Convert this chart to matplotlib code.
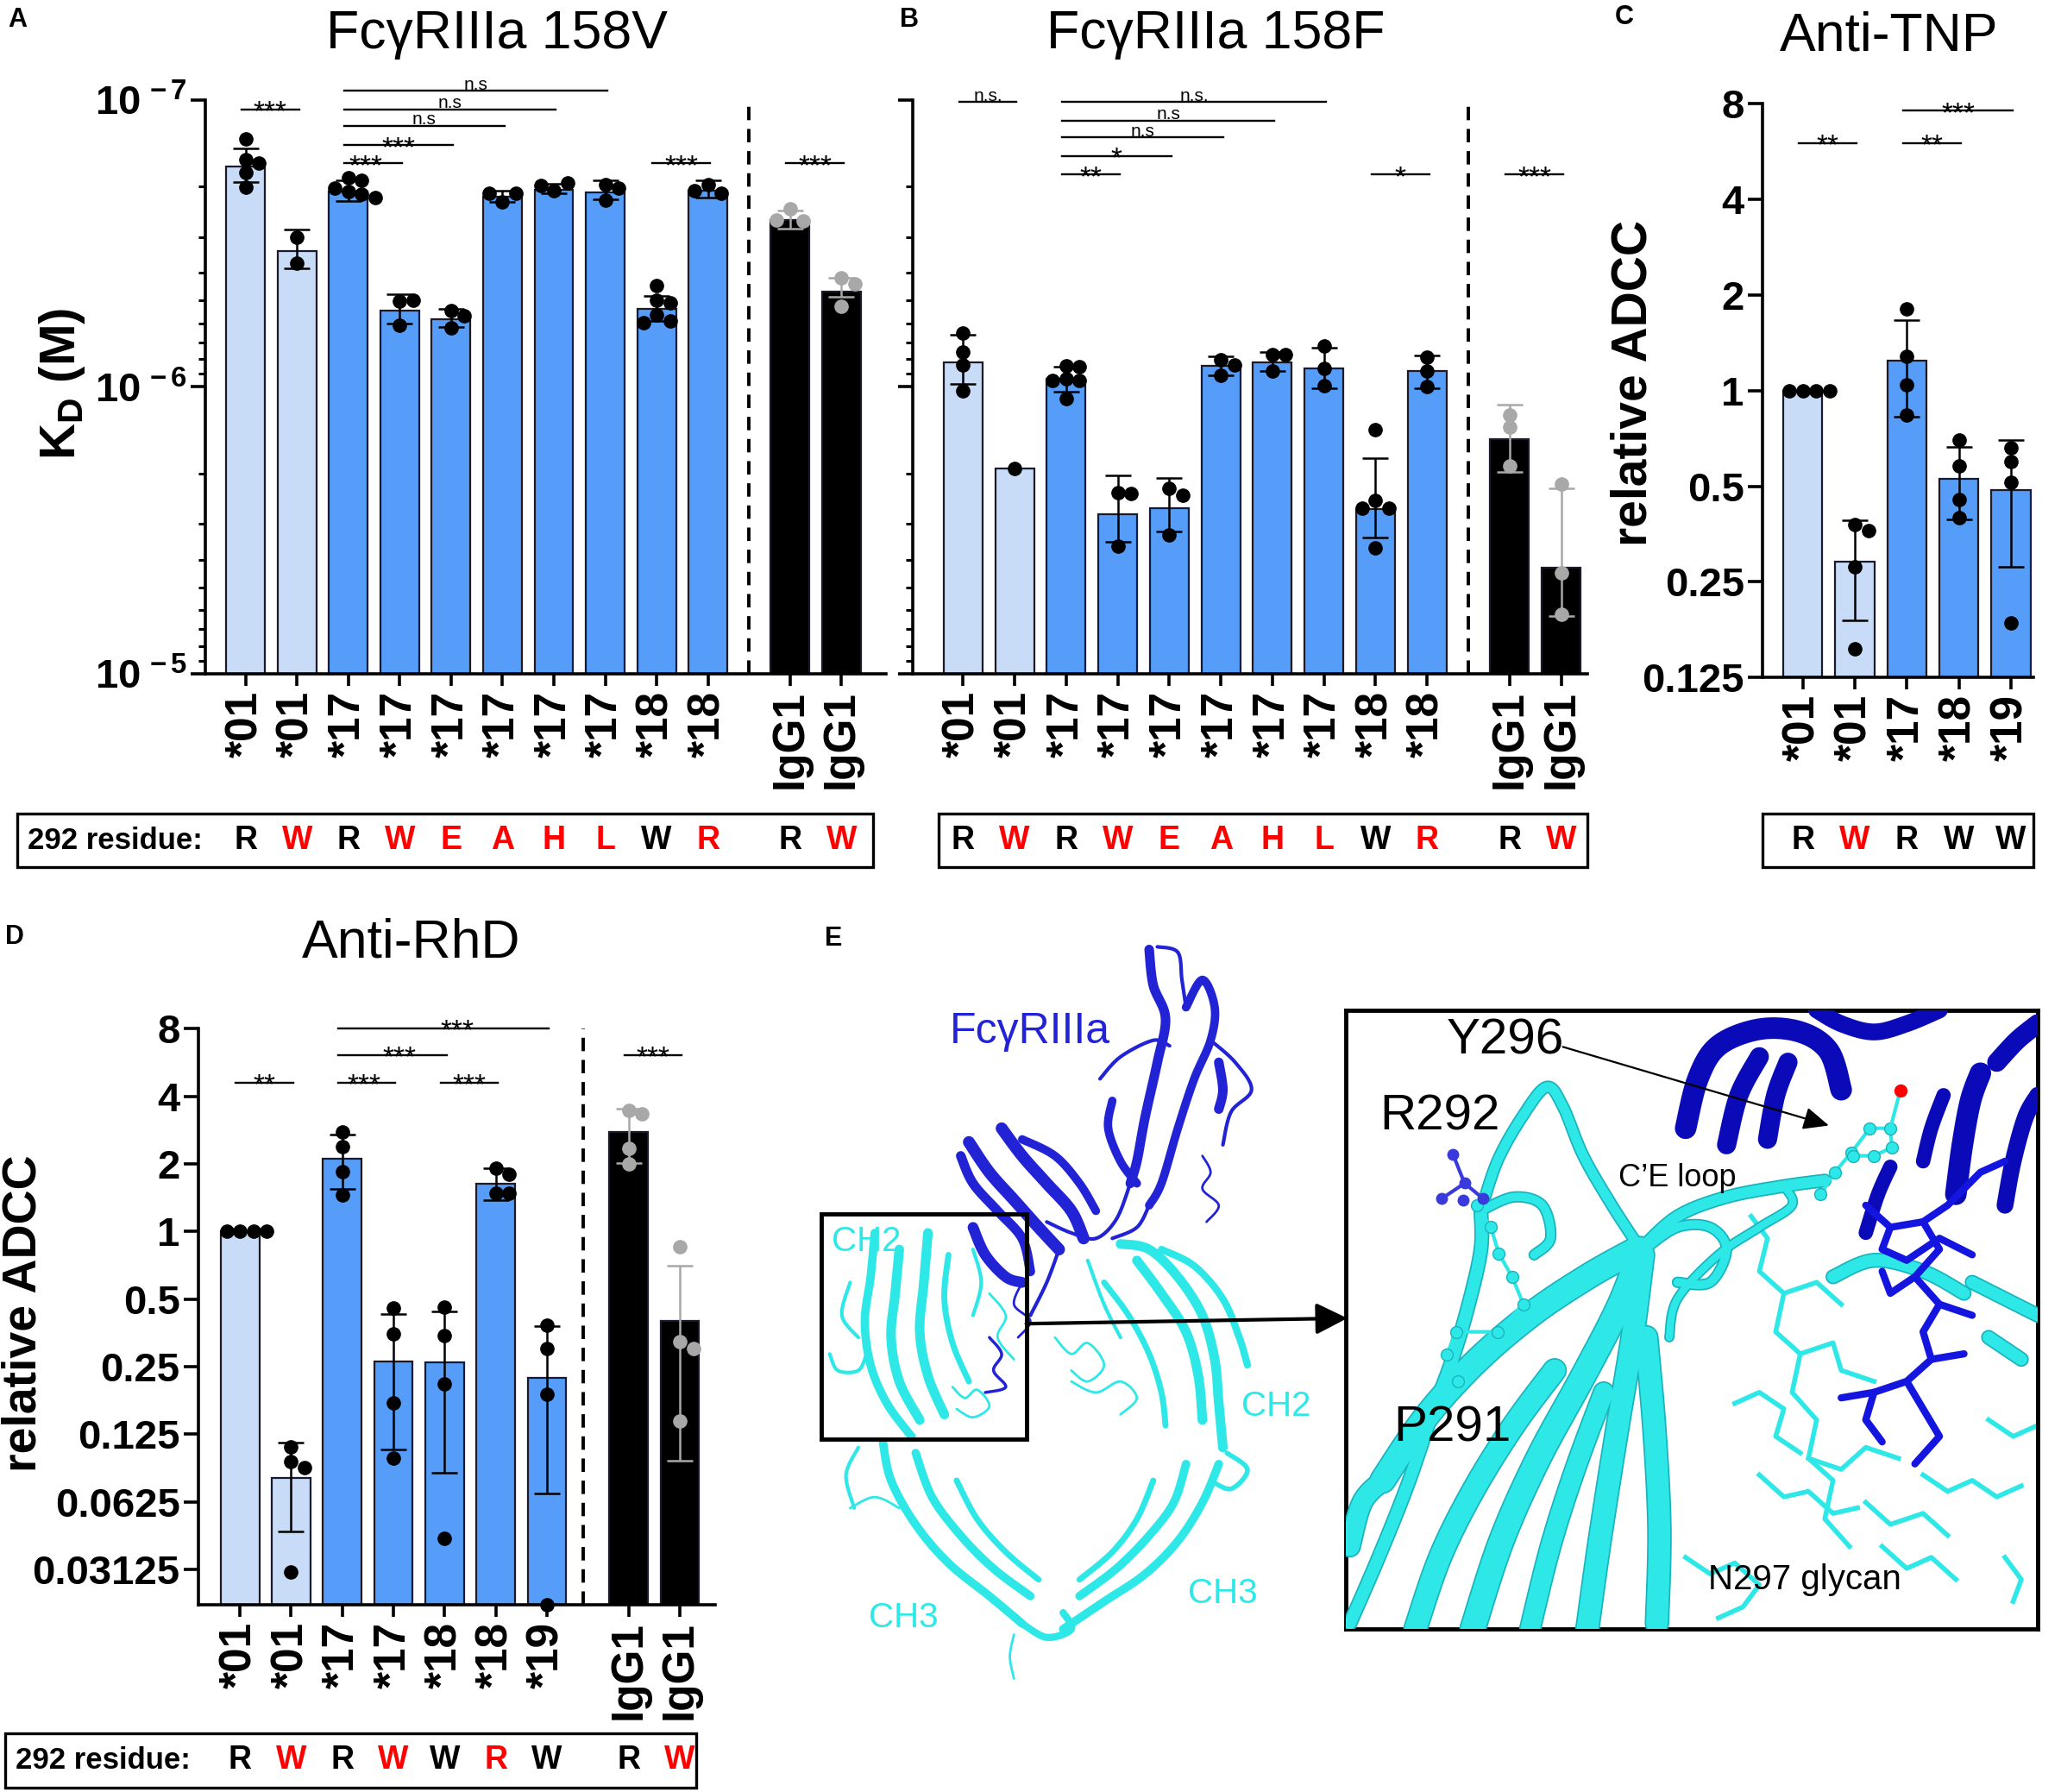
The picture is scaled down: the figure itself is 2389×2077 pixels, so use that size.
import numpy as np
import matplotlib
matplotlib.use("Agg")
import matplotlib.pyplot as plt
from matplotlib.transforms import blended_transform_factory
from matplotlib.patches import Rectangle
from matplotlib.ticker import FixedLocator, NullFormatter, LogLocator

plt.rcParams['font.family'] = ['Liberation Sans', 'DejaVu Sans']
plt.rcParams['mathtext.fontset'] = 'custom'
plt.rcParams['mathtext.rm'] = 'Liberation Sans'
plt.rcParams['mathtext.bf'] = 'Liberation Sans:bold'
plt.rcParams['mathtext.it'] = 'Liberation Sans:italic'

# ---------------- data ----------------
# A: KD (M) for FcgRIIIa 158V
a_labels = ['*01', '*01', '*17', '*17', '*17', '*17', '*17', '*17', '*18', '*18', 'IgG1', 'IgG1']
a_mean = [1.70e-7, 3.37e-7, 2.08e-7, 5.42e-7, 5.81e-7, 2.17e-7, 2.05e-7, 2.10e-7, 5.35e-7, 2.07e-7, 2.62e-7, 4.67e-7]
a_lo = [1.47e-7, 2.82e-7, 1.91e-7, 4.75e-7, 5.36e-7, 2.07e-7, 1.96e-7, 1.91e-7, 4.83e-7, 1.91e-7, 2.43e-7, 4.17e-7]
a_hi = [1.93e-7, 3.86e-7, 2.25e-7, 6.00e-7, 6.20e-7, 2.27e-7, 2.12e-7, 2.22e-7, 5.90e-7, 2.19e-7, 2.80e-7, 4.85e-7]
a_pts = [[1.37e-7, 1.61e-7, 1.66e-7, 1.79e-7, 2.01e-7],
         [3.00e-7, 3.70e-7],
         [1.86e-7, 1.90e-7, 2.03e-7, 2.09e-7, 2.13e-7, 2.19e-7],
         [5.03e-7, 5.00e-7, 6.10e-7],
         [5.42e-7, 5.64e-7, 6.24e-7],
         [2.27e-7, 2.12e-7, 2.12e-7],
         [2.07e-7, 1.94e-7, 1.98e-7],
         [1.97e-7, 2.24e-7, 2.03e-7],
         [4.42e-7, 5.00e-7, 5.10e-7, 5.60e-7, 5.90e-7, 5.97e-7],
         [1.97e-7, 2.12e-7, 2.07e-7],
         [2.40e-7, 2.64e-7, 2.62e-7],
         [4.17e-7, 4.36e-7, 5.24e-7]]

# B: KD (M) for FcgRIIIa 158F
b_labels = a_labels
b_mean = [8.24e-7, 1.92e-6, 9.40e-7, 2.77e-6, 2.65e-6, 8.43e-7, 8.20e-7, 8.63e-7, 2.67e-6, 8.82e-7, 1.52e-6, 4.28e-6]
b_lo = [6.57e-7, None, 8.50e-7, 2.04e-6, 2.08e-6, 7.80e-7, 7.54e-7, 7.30e-7, 1.77e-6, 7.75e-7, 1.15e-6, 2.26e-6]
b_hi = [9.76e-7, None, 1.04e-6, 3.46e-6, 3.19e-6, 9.14e-7, 8.80e-7, 1.01e-6, 3.36e-6, 1.01e-6, 1.98e-6, 6.30e-6]
b_pts = [[6.50e-7, 7.55e-7, 8.36e-7, 1.03e-6],
         [1.92e-6],
         [8.45e-7, 8.50e-7, 9.37e-7, 9.50e-7, 9.50e-7, 1.10e-6],
         [2.33e-6, 2.35e-6, 3.60e-6],
         [2.25e-6, 2.38e-6, 3.27e-6],
         [8.06e-7, 8.36e-7, 9.14e-7],
         [7.71e-7, 7.71e-7, 8.82e-7],
         [7.20e-7, 8.63e-7, 9.87e-7],
         [1.41e-6, 2.48e-6, 2.65e-6, 2.65e-6, 3.63e-6],
         [7.88e-7, 8.82e-7, 9.95e-7],
         [1.25e-6, 1.38e-6, 1.89e-6],
         [2.18e-6, 4.44e-6, 6.21e-6]]

# C: relative ADCC, anti-TNP
c_labels = ['*01', '*01', '*17', '*18', '*19']
c_mean = [1.0, 0.290, 1.24, 0.528, 0.486]
c_lo = [None, 0.189, 0.829, 0.394, 0.279]
c_hi = [None, 0.390, 1.67, 0.665, 0.700]
c_pts = [[1.0, 1.0, 1.0, 1.0],
         [0.378, 0.363, 0.279, 0.154],
         [1.81, 1.28, 1.045, 0.836],
         [0.70, 0.579, 0.454, 0.398],
         [0.662, 0.598, 0.513, 0.185]]

# D: relative ADCC, anti-RhD
d_labels = ['*01', '*01', '*17', '*17', '*18', '*18', '*19', 'IgG1', 'IgG1']
d_mean = [1.0, 0.0797, 2.10, 0.264, 0.261, 1.63, 0.222, 2.76, 0.400]
d_lo = [None, 0.046, 1.54, 0.107, 0.0845, 1.38, 0.068, 2.01, 0.0955]
d_hi = [None, 0.1145, 2.70, 0.427, 0.439, 1.91, 0.378, 3.51, 0.706]
d_pts = [[1.0, 1.0, 1.0, 1.0],
         [0.110, 0.0948, 0.0884, 0.0304],
         [2.78, 2.38, 1.85, 1.45],
         [0.455, 0.350, 0.173, 0.0978],
         [0.459, 0.344, 0.209, 0.0431],
         [1.91, 1.80, 1.48, 1.48],
         [0.382, 0.302, 0.189, 0.0217],
         [3.47, 3.33, 2.34, 2.00],
         [0.856, 0.324, 0.302, 0.143]]

# 292 residue rows
ab_res = ['R', 'W', 'R', 'W', 'E', 'A', 'H', 'L', 'W', 'R', 'R', 'W']
ab_res_red = [0, 1, 0, 1, 1, 1, 1, 1, 0, 1, 0, 1]
c_res = ['R', 'W', 'R', 'W', 'W']
c_res_red = [0, 1, 0, 0, 0]
d_res = ['R', 'W', 'R', 'W', 'W', 'R', 'W', 'R', 'W']
d_res_red = [0, 1, 0, 1, 0, 1, 0, 0, 1]

# significance brackets: (from bar, to bar, label)
a_sig = [(0, 1, '***'), (2, 7, 'n.s'), (2, 6, 'n.s'), (2, 5, 'n.s'), (2, 4, '***'),
         (2, 3, '***'), (8, 9, '***'), (10, 11, '***')]
b_sig = [(0, 1, 'n.s.'), (2, 7, 'n.s.'), (2, 6, 'n.s'), (2, 5, 'n.s'), (2, 4, '*'),
         (2, 3, '**'), (8, 9, '*'), (10, 11, '***')]
c_sig = [(0, 1, '**'), (2, 3, '**'), (2, 4, '***')]
d_sig = [(0, 1, '**'), (2, 3, '***'), (4, 5, '***'), (2, 4, '***'), (2, 6, '***'), (7, 8, '***')]

# ---------------- style ----------------
LIGHT = '#C8DCF8'
MID = '#559DF9'
EDGE = '#1a1a2a'
GREY = '#a8a8a8'
RED = '#ff0000'
CYAN = '#2EE8E8'
CYAN_D = '#18B4BE'
BLUE = '#2323D6'
NAVY = '#0A0AB8'

XLAB_FS = 37
YLAB_FS = 34

# horizontal nudges of some star labels (keeps stacked labels apart)
a_sig_dx = {(2, 3): -0.15}
d_sig_dx = {(2, 3): -0.05, (2, 4): 0.13, (2, 6): 0.26}


def bar_color(lab):
    if lab == '*01':
        return LIGHT
    if lab.startswith('IgG'):
        return 'black'
    return MID


def positions(labels):
    # bars evenly spaced, IgG1 controls shifted after the dashed divider
    pos, shift = [], 0.0
    for i, lab in enumerate(labels):
        if lab.startswith('IgG') and shift == 0.0:
            shift = 0.6
        pos.append(i + shift)
    return pos


def style_axis(ax):
    for s in ['top', 'right']:
        ax.spines[s].set_visible(False)
    for s in ['left', 'bottom']:
        ax.spines[s].set_linewidth(2.6)
    ax.tick_params(axis='both', which='major', width=2.6, length=10, pad=3)
    ax.tick_params(axis='y', which='minor', width=2.2, length=6)
    ax.tick_params(axis='x', which='minor', length=0)
    ax.tick_params(axis='x', labelsize=XLAB_FS, pad=4)


def swarm(ax, x0, vals, color, d=15.5):
    T = ax.transData
    px_per_unit = T.transform((1, vals[0]))[0] - T.transform((0, vals[0]))[0]
    placed, xs = [], []
    cands = [0, 1, -1, 2, -2, 3, -3]
    for v in vals:
        xd0, yd = T.transform((x0, v))
        for c in cands:
            xd = xd0 + c * d
            if all(np.hypot(xd - p, yd - q) >= d * 0.92 for p, q in placed):
                break
        placed.append((xd, yd))
        xs.append(x0 + c * d / px_per_unit)
    ax.plot(xs, vals, 'o', ms=11, color=color, mec=color, zorder=5, clip_on=False)


def draw_bars(ax, labels, means, lo, hi, pts, bottom):
    xs = positions(labels)
    for x, lab, m, l, h in zip(xs, labels, means, lo, hi):
        ax.bar(x, m - bottom, bottom=bottom, width=0.755, color=bar_color(lab),
               edgecolor=EDGE, linewidth=1.6, zorder=2)
        if l is not None:
            ec = GREY if lab.startswith('IgG') else 'black'
            ax.errorbar(x, m, yerr=[[m - l], [h - m]], fmt='none', ecolor=ec,
                        elinewidth=1.8, capsize=10.5, capthick=1.8, zorder=4)
    ax.set_xticks(xs)
    ax.set_xticklabels(labels, rotation=90, fontweight='bold')
    return xs


def add_points(ax, labels, pts):
    xs = positions(labels)
    for x, lab, p in zip(xs, labels, pts):
        color = GREY if lab.startswith('IgG') else 'black'
        swarm(ax, x, p, color)


def sig(ax, xs, pairs, yfracs, dx=None):
    dx = dx or {}
    tr = blended_transform_factory(ax.transData, ax.transAxes)
    for (i, j, txt), yf in zip(pairs, yfracs):
        x1, x2 = xs[i] - 0.08, xs[j] + 0.04
        xt = (x1 + x2) / 2 + dx.get((i, j), 0.0)
        ax.plot([x1, x2], [yf, yf], transform=tr, color='black', lw=1.7, clip_on=False, zorder=6)
        if txt.startswith('*'):
            ax.annotate(txt, xy=(xt, yf), xycoords=tr, xytext=(0, -9),
                        textcoords='offset points', ha='center', va='baseline', fontsize=24)
        else:
            ax.annotate(txt, xy=(xt, yf), xycoords=tr, xytext=(0, 1),
                        textcoords='offset points', ha='center', va='baseline', fontsize=15)


def residue_box(fig, ax, xs, letters, reds, x0, x1, yc, h, header):
    fig.add_artist(Rectangle((x0, yc - h / 2), x1 - x0, h, transform=fig.transFigure,
                             fill=False, lw=2.4, edgecolor='black'))
    tr = blended_transform_factory(ax.transData, fig.transFigure)
    for x, l, r in zip(xs, letters, reds):
        fig.text(x, yc, l, transform=tr, ha='center', va='center', fontsize=27,
                 fontweight='bold', color=RED if r else 'black')
    if header:
        fig.text(x0 + 0.005, yc, '292 residue:', ha='left', va='center',
                 fontsize=25, fontweight='bold')


fig = plt.figure(figsize=(23.89, 20.77), dpi=100)

axA = fig.add_axes([0.0995, 0.624, 0.3305, 0.3202])
axB = fig.add_axes([0.443, 0.624, 0.327, 0.3202])
axC = fig.add_axes([0.855, 0.622, 0.1316, 0.320])
axD = fig.add_axes([0.0961, 0.1044, 0.2509, 0.3216])

# ---- A and B (inverted log KD axis) ----
for ax, labels, mean, lo, hi, pts, xl in [
        (axA, a_labels, a_mean, a_lo, a_hi, a_pts, (-0.79, 12.47)),
        (axB, b_labels, b_mean, b_lo, b_hi, b_pts, (-0.97, 12.10))]:
    style_axis(ax)
    ax.set_yscale('log')
    ax.set_ylim(1e-5, 1e-7)
    ax.set_xlim(*xl)
    xs = draw_bars(ax, labels, mean, lo, hi, pts, 1e-5)
    ax.yaxis.set_major_locator(FixedLocator([1e-7, 1e-6, 1e-5]))
    ax.yaxis.set_minor_locator(LogLocator(base=10, subs=range(2, 10)))
    ax.yaxis.set_minor_formatter(NullFormatter())
    ax.axvline(9.8, color='black', lw=2.8, ls=(0, (4, 2.6)), zorder=3)
    add_points(ax, labels, pts)

axA.set_yticklabels([r'$\mathbf{10^{\,-7}}$', r'$\mathbf{10^{\,-6}}$', r'$\mathbf{10^{\,-5}}$'],
                    fontsize=34)
axA.tick_params(axis='y', which='major', length=12)
axB.set_yticklabels([])
axB.tick_params(axis='y', which='major', length=12)

sig(axA, positions(a_labels), a_sig, [0.9836, 1.0158, 0.984, 0.955, 0.921, 0.8896, 0.8896, 0.8896],
    a_sig_dx)
sig(axB, positions(b_labels), b_sig, [0.997, 0.997, 0.964, 0.935, 0.902, 0.870, 0.870, 0.870])

# ---- C ----
style_axis(axC)
axC.set_yscale('log', base=2)
axC.set_ylim(0.125, 8)
axC.set_xlim(-0.78, 4.43)
draw_bars(axC, c_labels, c_mean, c_lo, c_hi, c_pts, 0.125)
c_ticks = [0.125, 0.25, 0.5, 1, 2, 4, 8]
axC.yaxis.set_major_locator(FixedLocator(c_ticks))
axC.yaxis.set_minor_locator(FixedLocator([]))
axC.set_yticklabels(['0.125', '0.25', '0.5', '1', '2', '4', '8'], fontsize=YLAB_FS, fontweight='bold')
axC.tick_params(axis='y', which='major', length=12)
add_points(axC, c_labels, c_pts)
sig(axC, positions(c_labels), c_sig, [0.9315, 0.9315, 0.988])

# ---- D ----
style_axis(axD)
axD.set_yscale('log', base=2)
axD.set_ylim(0.0217, 8)
axD.set_xlim(-0.82, 9.29)
d_x = draw_bars(axD, d_labels, d_mean, d_lo, d_hi, d_pts, 0.0217)
d_ticks = [0.03125, 0.0625, 0.125, 0.25, 0.5, 1, 2, 4, 8]
axD.yaxis.set_major_locator(FixedLocator(d_ticks))
axD.yaxis.set_minor_locator(FixedLocator([]))
axD.set_yticklabels(['0.03125', '0.0625', '0.125', '0.25', '0.5', '1', '2', '4', '8'],
                    fontsize=YLAB_FS, fontweight='bold')
axD.tick_params(axis='y', which='major', length=12)
axD.axvline(6.71, color='black', lw=2.8, ls=(0, (4, 2.6)), zorder=3)
add_points(axD, d_labels, d_pts)
sig(axD, d_x, d_sig, [0.906, 0.906, 0.906, 0.954, 1.0, 0.954], d_sig_dx)

# ---- residue boxes ----
residue_box(fig, axA, positions(a_labels), ab_res, ab_res_red, 0.0084, 0.4237, 0.531, 0.030, True)
residue_box(fig, axB, positions(b_labels), ab_res, ab_res_red, 0.4555, 0.7703, 0.531, 0.030, False)
residue_box(fig, axC, positions(c_labels), c_res, c_res_red, 0.8553, 0.9866, 0.531, 0.030, False)
residue_box(fig, axD, d_x, d_res, d_res_red, 0.0024, 0.3376, 0.0176, 0.030, True)

# ---- titles, axis labels, panel letters ----
fig.text(0.241, 0.981, 'FcγRIIIa 158V', ha='center', va='center', fontsize=45)
fig.text(0.590, 0.981, 'FcγRIIIa 158F', ha='center', va='center', fontsize=45)
fig.text(0.9167, 0.980, 'Anti-TNP', ha='center', va='center', fontsize=45)
fig.text(0.1994, 0.474, 'Anti-RhD', ha='center', va='center', fontsize=45)

fig.text(0.030, 0.786, r'$\mathbf{K_{D}}$ (M)', rotation=90, ha='center', va='center',
         fontsize=42, fontweight='bold')
fig.text(0.7925, 0.786, 'relative ADCC', rotation=90, ha='center', va='center',
         fontsize=41, fontweight='bold')
fig.text(0.0115, 0.267, 'relative ADCC', rotation=90, ha='center', va='center',
         fontsize=40, fontweight='bold')

for lbl, x, y in [('A', 0.0084, 0.989), ('B', 0.441, 0.989), ('C', 0.788, 0.9906),
                  ('D', 0.0072, 0.477), ('E', 0.4046, 0.4763)]:
    fig.text(x, y, lbl, ha='center', va='center', fontsize=22, fontweight='bold')

# ---------------- panel E: schematic structure ----------------
def smooth(pts, n=10):
    p = np.asarray(pts, float)
    if len(p) < 3:
        return p
    p = np.vstack([p[0], p, p[-1]])
    t = np.linspace(0, 1, n, endpoint=False)[:, None]
    out = []
    for i in range(1, len(p) - 2):
        p0, p1, p2, p3 = p[i - 1], p[i], p[i + 1], p[i + 2]
        out.append(0.5 * (2 * p1 + (-p0 + p2) * t + (2 * p0 - 5 * p1 + 4 * p2 - p3) * t ** 2
                          + (-p0 + 3 * p1 - 3 * p2 + p3) * t ** 3))
    out.append(p[-2][None])
    return np.vstack(out)


def strand(ax, pts, color, lw, dark=None, z=2):
    s = smooth(pts)
    if dark is not None:
        ax.plot(s[:, 0], s[:, 1], color=dark, lw=lw + 2.5, solid_capstyle='round', zorder=z)
    ax.plot(s[:, 0], s[:, 1], color=color, lw=lw, solid_capstyle='round', zorder=z + 0.1)


axE = fig.add_axes([0.3767, 0.01781, 0.6233, 0.4815])
axE.set_xlim(0, 1568)
axE.set_ylim(1568, 0)
axE.axis('off')
axE.patch.set_visible(False)

# receptor (blue)
rec_strands = [
    ([(465, 90), (490, 100), (495, 150), (500, 200)], 3),
    ([(455, 95), (460, 160), (475, 220), (465, 300), (450, 400), (440, 480), (432, 520)], 8),
    ([(500, 200), (520, 150), (535, 200), (530, 260), (510, 330), (490, 420), (470, 520), (455, 560)], 7),
    ([(395, 330), (420, 290), (460, 260), (480, 270)], 3),
    ([(410, 370), (405, 420), (420, 480), (440, 520)], 7),
    ([(530, 260), (560, 300), (580, 350), (555, 390), (545, 450)], 3),
    ([(540, 300), (545, 350), (540, 385)], 8),
    ([(432, 520), (415, 585), (390, 620), (360, 610), (330, 590)], 3),
    ([(455, 560), (440, 600), (410, 620)], 3),
    ([(235, 445), (260, 500), (290, 550), (320, 600), (345, 640)], 10),
    ([(275, 420), (300, 470), (330, 520), (360, 570), (375, 620)], 10),
    ([(225, 470), (240, 520), (270, 570), (300, 620), (310, 680)], 8),
    ([(300, 440), (340, 470), (370, 520), (390, 570)], 7),
    ([(240, 600), (255, 650), (280, 690), (300, 700)], 9),
    ([(345, 640), (330, 700), (310, 760)], 3),
    ([(520, 470), (530, 500), (520, 530), (540, 560), (525, 590)], 2),
    ([(300, 700), (290, 740), (310, 770), (295, 800)], 2),
    ([(260, 800), (275, 830), (265, 860), (280, 890), (255, 900)], 2.5),
]
for pts, lw in rec_strands:
    strand(axE, pts, BLUE, lw, z=3)

# Fc (cyan)
fc_strands = [
    ([(120, 610), (115, 690), (108, 770), (115, 850), (135, 920), (165, 980)], 7),
    ([(150, 640), (145, 720), (140, 800), (150, 880), (175, 950)], 8),
    ([(185, 610), (180, 700), (175, 790), (185, 870), (205, 940)], 8),
    ([(210, 650), (205, 730), (215, 810), (235, 880)], 5),
    ([(240, 640), (250, 700), (240, 760)], 3),
    ([(65, 830), (75, 860), (100, 860), (110, 830)], 3),
    ([(90, 700), (80, 760), (100, 800)], 3),
    ([(215, 890), (230, 910), (245, 895), (260, 925), (240, 945), (220, 930)], 2),
    ([(260, 720), (280, 760), (270, 800), (290, 840)], 2),
    ([(420, 630), (455, 640), (490, 690), (520, 760), (535, 840), (540, 920), (545, 1000)], 8),
    ([(440, 660), (470, 720), (500, 790), (515, 870), (520, 950)], 8),
    ([(470, 640), (510, 670), (545, 730), (565, 800), (575, 850)], 6),
    ([(400, 700), (430, 760), (455, 830), (470, 900), (475, 960)], 5),
    ([(380, 660), (400, 740), (420, 800)], 3),
    ([(550, 1010), (575, 1040), (555, 1075), (530, 1060)], 4),
    ([(340, 800), (360, 830), (380, 810), (400, 850), (380, 880), (360, 860)], 2),
    ([(360, 880), (390, 900), (420, 880), (440, 910), (420, 940)], 2),
    ([(130, 990), (140, 1060), (170, 1140), (210, 1210), (260, 1270), (300, 1320)], 7),
    ([(170, 1010), (190, 1090), (225, 1160), (265, 1220), (310, 1270)], 7),
    ([(220, 1060), (245, 1130), (280, 1190), (320, 1240)], 5),
    ([(540, 1030), (520, 1100), (490, 1170), (450, 1230), (400, 1280), (350, 1330)], 7),
    ([(500, 1030), (485, 1100), (455, 1160), (415, 1220), (370, 1270)], 7),
    ([(460, 1060), (440, 1130), (410, 1190), (370, 1240)], 5),
    ([(300, 1320), (330, 1345), (360, 1330), (350, 1300)], 6),
    ([(290, 1340), (285, 1380), (290, 1420)], 2),
    ([(90, 1110), (120, 1090), (150, 1110)], 2),
    ([(100, 1000), (85, 1050), (95, 1110)], 3),
]
for pts, lw in fc_strands:
    strand(axE, pts, CYAN, lw, z=2)

axE.add_patch(Rectangle((55, 575), 250, 410, fill=False, lw=3.5, edgecolor='black', zorder=6))
axE.annotate('', xy=(697, 765), xytext=(305, 775),
             arrowprops=dict(arrowstyle='-|>,head_width=0.5,head_length=1.0', lw=3, color='black',
                             shrinkA=0, shrinkB=0, mutation_scale=22), zorder=6)

axE.text(310, 245, 'FcγRIIIa', color=BLUE, fontsize=36, ha='center', va='center')
axE.text(110, 625, 'CH2', color=CYAN, fontsize=29, ha='center', va='center')
axE.text(610, 925, 'CH2', color=CYAN, fontsize=29, ha='center', va='center')
axE.text(545, 1265, 'CH3', color=CYAN, fontsize=29, ha='center', va='center')
axE.text(155, 1310, 'CH3', color=CYAN, fontsize=29, ha='center', va='center')

# inset (zoomed view)
axI = fig.add_axes([0.6530, 0.0910, 0.3357, 0.3454])
axI.set_xlim(695, 1540)
axI.set_ylim(1330, 205)
axI.set_xticks([])
axI.set_yticks([])
for s in axI.spines.values():
    s.set_linewidth(3.5)

in_cyan_sticks = [
    [(1190, 580), (1210, 620), (1200, 680), (1230, 720), (1220, 790), (1250, 830), (1240, 900),
     (1270, 950), (1260, 1020), (1290, 1060), (1280, 1130), (1310, 1180)],
    [(1230, 720), (1270, 700), (1300, 740)],
    [(1250, 830), (1290, 810), (1300, 860), (1340, 880)],
    [(1170, 920), (1200, 900), (1230, 930), (1220, 980), (1250, 1010)],
    [(1110, 1200), (1140, 1230), (1170, 1210), (1200, 1250), (1180, 1290), (1150, 1310)],
    [(1260, 1020), (1300, 1040), (1330, 1000), (1370, 1020)],
    [(1400, 1050), (1430, 1080), (1460, 1060), (1490, 1090), (1520, 1070)],
    [(1480, 950), (1510, 980), (1540, 960)],
    [(1500, 1200), (1520, 1240), (1510, 1280)],
    [(1330, 1100), (1360, 1140), (1400, 1120), (1430, 1160)],
    [(1200, 1050), (1230, 1090), (1260, 1080), (1290, 1120), (1320, 1110)],
    [(1350, 1180), (1380, 1220), (1410, 1200), (1440, 1240)],
]
for pts in in_cyan_sticks:
    axI.plot(*np.asarray(pts, float).T, color=CYAN, lw=4, zorder=2)

in_cyan_rib = [
    ([(1290, 690), (1340, 660), (1400, 680), (1450, 720)], 10),
    ([(1460, 700), (1500, 730), (1540, 760)], 10),
    ([(1480, 800), (1520, 840)], 10),
    ([(860, 570), (880, 480), (910, 400), (940, 345), (960, 380), (985, 470), (1020, 560), (1055, 640)], 8),
    ([(1055, 640), (1100, 580), (1160, 545), (1230, 525), (1280, 515)], 9),
    ([(1060, 640), (1100, 600), (1140, 600), (1160, 640), (1140, 700), (1100, 700)], 7),
    ([(860, 570), (900, 545), (935, 560), (945, 620), (925, 650)], 7),
    ([(1230, 525), (1240, 560), (1200, 600), (1150, 650), (1100, 730), (1090, 800)], 6),
    ([(700, 1320), (735, 1200), (770, 1070), (800, 940), (825, 840), (845, 740), (860, 640), (860, 570)], 10),
    ([(700, 1180), (715, 1100), (740, 1060)], 16),
    ([(740, 1060), (790, 950), (850, 850), (920, 760), (990, 690), (1050, 640)], 20),
    ([(780, 1330), (810, 1200), (850, 1080), (900, 960), (950, 860)], 18),
    ([(850, 1330), (885, 1170), (930, 1020), (985, 870), (1030, 740), (1055, 640)], 20),
    ([(920, 1330), (945, 1180), (975, 1040), (1010, 900)], 16),
    ([(990, 1330), (1005, 1170), (1025, 980), (1045, 800), (1058, 650)], 18),
    ([(1075, 1320), (1078, 1150), (1072, 970), (1062, 800)], 18),
]
for pts, lw in in_cyan_rib:
    strand(axI, pts, CYAN, lw, dark=CYAN_D, z=3)

in_navy = [
    ([(1110, 420), (1125, 330), (1150, 270), (1200, 240), (1250, 245), (1285, 280), (1300, 350)], 18),
    ([(1160, 450), (1175, 360), (1200, 290)], 16),
    ([(1210, 440), (1220, 360), (1235, 300)], 16),
    ([(1440, 540), (1448, 450), (1458, 370), (1470, 320)], 18),
    ([(1490, 300), (1515, 260), (1540, 230)], 16),
    ([(1330, 610), (1345, 540), (1360, 490)], 12),
    ([(1270, 205), (1300, 230), (1340, 245), (1380, 230), (1420, 205)], 14),
    ([(1400, 480), (1410, 420), (1425, 360)], 12),
    ([(1500, 560), (1510, 480), (1525, 400), (1540, 360)], 14),
]
for pts, lw in in_navy:
    strand(axI, pts, NAVY, lw, z=4)

in_blue_sticks = [
    [(1330, 560), (1360, 600), (1400, 590), (1420, 640), (1390, 690), (1420, 740), (1400, 790),
     (1410, 840), (1380, 880), (1340, 900), (1300, 910)],
    [(1400, 590), (1430, 560), (1470, 500), (1500, 480)],
    [(1390, 690), (1360, 720), (1350, 680)],
    [(1420, 740), (1460, 760)],
    [(1380, 880), (1400, 930), (1420, 980), (1390, 1030)],
    [(1340, 900), (1330, 950), (1350, 990)],
    [(1410, 840), (1450, 830)],
    [(1360, 600), (1350, 640), (1380, 660), (1420, 620), (1460, 650)],
]
for pts in in_blue_sticks:
    axI.plot(*np.asarray(pts, float).T, color='#1515E0', lw=6, zorder=5, solid_capstyle='round')

chain_pr = np.array([(855, 560), (872, 600), (882, 648), (898, 690), (912, 740), (880, 790),
                     (830, 790), (818, 832), (832, 880)], float)
axI.plot(chain_pr[:, 0], chain_pr[:, 1], '-o', color=CYAN, mec=CYAN_D, lw=3, ms=10, zorder=6)
arg = np.array([(826, 468), (840, 520), (812, 548), (838, 550), (862, 547)], float)
axI.plot([826, 840, 862], [468, 520, 547], color='#3a3adc', lw=3, zorder=6)
axI.plot([812, 840], [548, 520], color='#3a3adc', lw=3, zorder=6)
axI.plot(arg[:, 0], arg[:, 1], 'o', color='#3a3adc', ms=9, zorder=7)
chain_y = np.array([(1275, 540), (1292, 500), (1312, 465), (1335, 420), (1360, 420), (1362, 455),
                    (1340, 470), (1315, 470)], float)
axI.plot(chain_y[:, 0], chain_y[:, 1], '-o', color=CYAN, mec=CYAN_D, lw=3, ms=10, zorder=6)
axI.plot([1360, 1372], [420, 352], color=CYAN, lw=3, zorder=6)
axI.plot([1372], [352], 'o', color='red', ms=10, zorder=7)

axI.annotate('', xy=(1285, 415), xytext=(960, 272),
             arrowprops=dict(arrowstyle='-|>,head_width=0.4,head_length=0.9', lw=1.6, color='black',
                             shrinkA=0, shrinkB=0, mutation_scale=20), zorder=8)
axI.text(890, 262, 'Y296', fontsize=42, ha='center', va='center', zorder=9)
axI.text(810, 400, 'R292', fontsize=42, ha='center', va='center', zorder=9)
axI.text(825, 965, 'P291', fontsize=42, ha='center', va='center', zorder=9)
axI.text(1100, 510, 'C’E loop', fontsize=26, ha='center', va='center', zorder=9)
axI.text(1255, 1240, 'N297 glycan', fontsize=29, ha='center', va='center', zorder=9)

fig.savefig('out.png', dpi=100)
